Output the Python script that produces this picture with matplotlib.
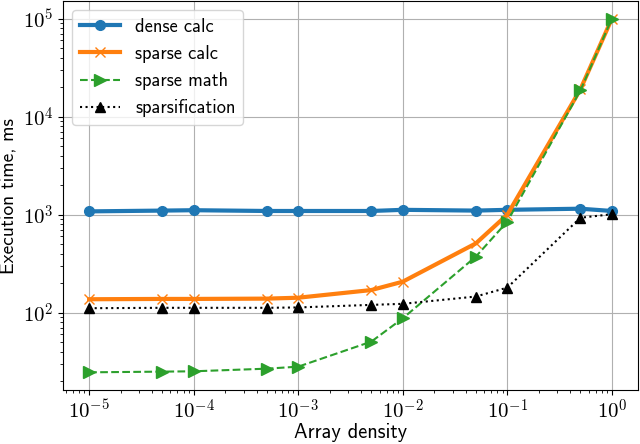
import matplotlib
matplotlib.use("Agg")
import matplotlib.pyplot as plt
from matplotlib.ticker import FuncFormatter
import numpy as np

plt.rcParams["mathtext.fontset"] = "cm"
plt.rcParams["font.family"] = ["cmss10", "DejaVu Sans"]
plt.rcParams["axes.formatter.use_mathtext"] = True
plt.rcParams["font.size"] = 14

density = [1e-5, 5e-5, 1e-4, 5e-4, 1e-3, 5e-3, 1e-2, 5e-2, 1e-1, 5e-1, 1.0]
dense_calc = [1080, 1100, 1110, 1090, 1090, 1090, 1120, 1100, 1120, 1150, 1090]
sparse_calc = [137, 138, 138, 139, 142, 170, 207, 509, 1000, 19000, 100000]
sparse_math = [24.6, 25, 25.2, 26.8, 28.1, 50.6, 87.5, 373, 850, 18500, 100000]
sparsification = [111, 112, 112, 112, 113, 120, 123, 146, 180, 930, 1010]

fig = plt.figure(figsize=(6.4, 4.44), dpi=100)
ax = fig.add_subplot(111)
fig.subplots_adjust(left=63/640, right=638/640, top=1-1/444, bottom=1-390/444)

ax.plot(density, dense_calc, "-o", lw=3, ms=7, label="dense calc")
ax.plot(density, sparse_calc, "-x", lw=3, ms=7, label="sparse calc")
ax.plot(density, sparse_math, "--", marker=">", lw=1.5, ms=8, label="sparse math")
ax.plot(density, sparsification, ":", color="black", marker="^", lw=1.5, ms=7,
        label="sparsification")

ax.set_xscale("log")
ax.set_yscale("log")
pow_fmt = FuncFormatter(lambda v, p: r"$10^{%d}$" % int(round(np.log10(v))))
ax.xaxis.set_major_formatter(pow_fmt)
ax.yaxis.set_major_formatter(pow_fmt)
ax.tick_params(labelsize=15)
ax.tick_params(axis="x", pad=3)
ax.grid(True)
ax.set_xlabel("Array density", fontsize=14.7, labelpad=0)
ax.set_ylabel("Execution time, ms", fontsize=14, labelpad=4)
ax.legend(loc="upper left", fontsize=13.3, handlelength=2.2)

fig.savefig("out.png", dpi=100)
